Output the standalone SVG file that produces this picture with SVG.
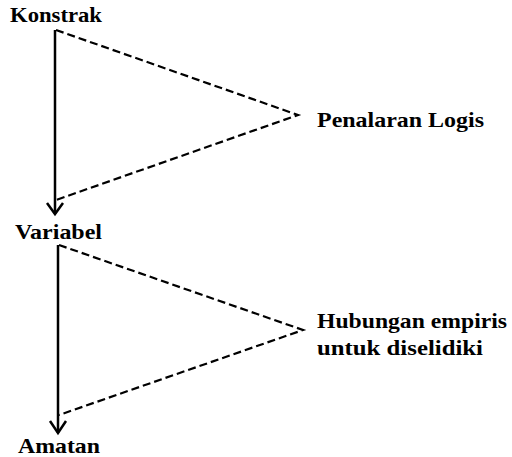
<svg xmlns="http://www.w3.org/2000/svg" width="512" height="457" viewBox="0 0 512 457">
<style>
.lbl{font-family:"Liberation Serif","Times New Roman",serif;font-weight:bold;font-size:22px;fill:#000}
.solid{stroke:#000;stroke-width:2.5;fill:none}
.dash{stroke:#000;stroke-width:2.2;fill:none;stroke-dasharray:8 4}
</style>
<rect width="512" height="457" fill="#fff"/>
<g id="connectors">
<line class="solid" x1="55" y1="30" x2="55" y2="214"/>
<polyline class="solid" points="47,203 55,214 63,203"/>
<polyline class="dash" points="56,30 298,115 56,200"/>
<line class="solid" x1="58" y1="245" x2="58" y2="433"/>
<polyline class="solid" points="50,421 58,433 66,421"/>
<polyline class="dash" points="59,245 303,330 59,415"/>
</g>
<g id="konstrak"><text class="lbl" x="10" y="22" textLength="92" lengthAdjust="spacingAndGlyphs">Konstrak</text></g>
<g id="variabel"><text class="lbl" x="15" y="239" textLength="87" lengthAdjust="spacingAndGlyphs">Variabel</text></g>
<g id="amatan"><text class="lbl" x="18" y="453" textLength="82" lengthAdjust="spacingAndGlyphs">Amatan</text></g>
<g id="penalaran"><text class="lbl" x="317" y="127" textLength="167" lengthAdjust="spacingAndGlyphs">Penalaran Logis</text></g>
<g id="hubungan"><text class="lbl" x="317" y="328" textLength="190" lengthAdjust="spacingAndGlyphs">Hubungan empiris</text><text class="lbl" x="317" y="355" textLength="166" lengthAdjust="spacingAndGlyphs">untuk diselidiki</text></g>
</svg>
